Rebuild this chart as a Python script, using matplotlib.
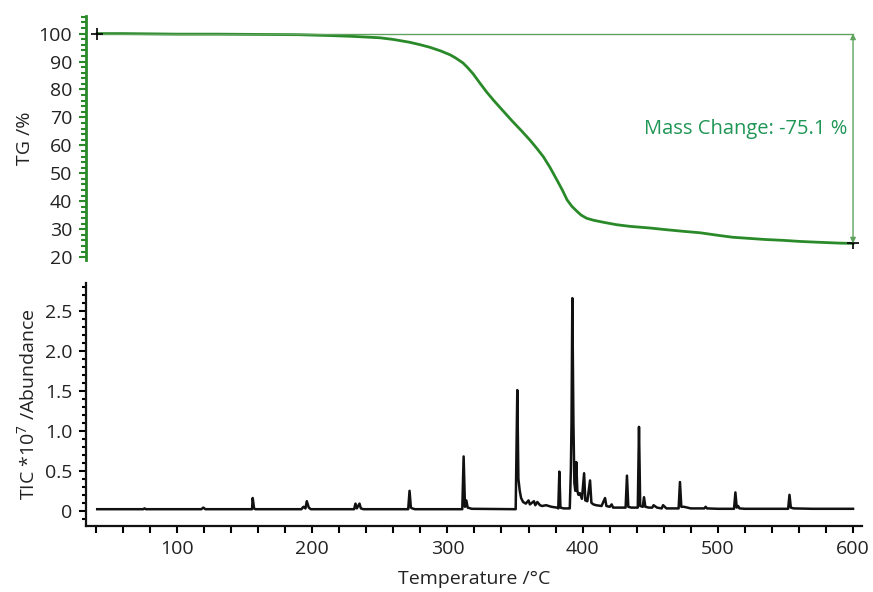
import matplotlib
matplotlib.use("Agg")
import matplotlib.pyplot as plt
from matplotlib.ticker import MultipleLocator, FixedLocator, FuncFormatter

plt.rcParams["font.family"] = ["Open Sans", "DejaVu Sans"]
plt.rcParams["mathtext.default"] = "regular"

# TG curve (temperature in degC, mass in %)
tg_temp = [41, 60, 80, 100, 130, 160, 190, 213, 230, 250, 260, 272, 280, 287,
           295, 302, 306, 311.5, 315, 319, 324, 329, 334, 339, 344, 348.5, 355,
           361, 366, 371, 376, 381, 385, 388.5, 392, 396, 399, 403, 408, 415,
           425, 435, 450, 462, 475, 487, 500, 511, 523, 535, 548, 561, 570,
           580, 590, 600]
tg_mass = [100.0, 100.0, 99.9, 99.8, 99.8, 99.7, 99.6, 99.3, 99.0, 98.5, 97.9,
           96.9, 96.0, 95.1, 93.8, 92.4, 91.3, 89.5, 87.8, 85.6, 82.3, 79.1,
           76.2, 73.5, 70.8, 68.4, 65.1, 61.9, 59.0, 55.9, 52.0, 47.6, 44.0,
           40.5, 38.2, 36.3, 35.0, 33.9, 33.2, 32.5, 31.6, 31.0, 30.4, 29.8,
           29.2, 28.7, 27.8, 27.1, 26.7, 26.3, 26.0, 25.6, 25.4, 25.2, 25.0, 24.9]
mass_change = -75.1

# TIC trace (temperature in degC, abundance in 1e7)
tic_temp = [41, 75, 76, 77, 118, 119.5, 121, 155.5, 156, 157, 158,
            192, 193.5, 195, 196, 197.5, 199,
            231, 232, 233, 235, 236, 238,
            271, 272, 273, 274, 276,
            311, 312, 313, 314, 315, 318, 350.5,
            351.7, 352.5, 353.5, 354.5, 356, 358, 360, 361, 362.5, 364, 365, 366.5,
            368.5, 370, 373, 377, 381, 382, 382.8, 383.6, 386, 389.5,
            390.5, 391.3, 391.8, 392.4, 393.2, 393.9, 394.6, 395.3, 396.1, 396.9,
            398, 399.5, 401.1, 402, 403.5, 405.5, 406.5, 408, 410, 414, 416.6,
            417.6, 420, 421.5, 422.5, 425, 431.8, 432.8, 433.8, 436, 440.8,
            441.7, 442.6, 444.5, 445.4, 446.4, 449, 451.5, 452.5, 455, 458.5,
            459.5, 462, 471, 472, 473, 475, 480, 490, 491, 492, 500, 512, 513,
            514, 515, 516, 520, 552, 553, 554, 556, 570, 600]
tic_abund = [0.02, 0.02, 0.03, 0.02, 0.02, 0.04, 0.02, 0.02, 0.16, 0.03, 0.02,
             0.02, 0.05, 0.03, 0.12, 0.04, 0.02,
             0.02, 0.09, 0.03, 0.09, 0.03, 0.02,
             0.02, 0.25, 0.04, 0.03, 0.02,
             0.02, 0.68, 0.05, 0.13, 0.04, 0.025, 0.02,
             1.51, 0.4, 0.25, 0.16, 0.11, 0.09, 0.13, 0.08, 0.1, 0.12, 0.07, 0.11,
             0.07, 0.06, 0.07, 0.05, 0.04, 0.03, 0.49, 0.04, 0.03, 0.03,
             0.03, 0.5, 1.1, 2.66, 1.1, 0.35, 0.25, 0.61, 0.25, 0.2,
             0.22, 0.15, 0.47, 0.13, 0.12, 0.38, 0.1, 0.08, 0.07, 0.06, 0.16,
             0.06, 0.05, 0.08, 0.04, 0.04, 0.04, 0.44, 0.05, 0.04, 0.04,
             1.05, 0.06, 0.05, 0.17, 0.05, 0.04, 0.04, 0.07, 0.04, 0.03,
             0.07, 0.03, 0.03, 0.36, 0.05, 0.05, 0.03, 0.03, 0.05, 0.03, 0.025,
             0.025, 0.23, 0.04, 0.06, 0.03, 0.025, 0.025, 0.2, 0.04, 0.03, 0.025,
             0.025]

green = "#2a8a2a"
light_green = "#5fa35f"
text_green = "#1f9655"
dark = "#222222"
fs = 14

fig = plt.figure(figsize=(8.73, 5.92), dpi=100)
ax1 = fig.add_axes([0.0985, 0.561, 0.889, 0.412])
ax2 = fig.add_axes([0.0985, 0.1115, 0.889, 0.4105])

xmin, xmax = 32.7, 606.7

# top panel: TG
ax1.plot(tg_temp, tg_mass, color=green, linewidth=2)
ax1.plot([tg_temp[0], tg_temp[-1]], [tg_mass[0], tg_mass[0]],
         color=light_green, linewidth=1)
ax1.annotate("", xy=(tg_temp[-1], tg_mass[0]), xytext=(tg_temp[-1], tg_mass[-1]),
             arrowprops=dict(arrowstyle="<|-|>", color=light_green, lw=1,
                             mutation_scale=8, shrinkA=0, shrinkB=0))
ax1.plot([tg_temp[0], tg_temp[-1]], [tg_mass[0], tg_mass[-1]], "+",
         color="black", markersize=9, markeredgewidth=1.2)
ax1.text(595.5, 66, f"Mass Change: {mass_change} %", color=text_green,
         fontsize=14.5, ha="right", va="center")
ax1.set_xlim(xmin, xmax)
ax1.set_ylim(19, 106.3)
for s in ["top", "right", "bottom"]:
    ax1.spines[s].set_visible(False)
ax1.spines["left"].set_color(green)
ax1.spines["left"].set_linewidth(2)
ax1.set_xticks([])
ax1.yaxis.set_major_locator(FixedLocator(range(20, 101, 10)))
ax1.yaxis.set_minor_locator(MultipleLocator(2))
ax1.tick_params(axis="y", which="major", color=green, length=5, width=1.5,
                labelsize=fs, labelcolor=dark, pad=5)
ax1.tick_params(axis="y", which="minor", color=green, length=3.5, width=1.5)
ax1.set_ylabel("TG /%", fontsize=fs, color=dark, labelpad=3)

# bottom panel: TIC
ax2.plot(tic_temp, tic_abund, color="#111111", linewidth=1.8)
ax2.set_xlim(xmin, xmax)
ax2.set_ylim(-0.19, 2.85)
for s in ["top", "right"]:
    ax2.spines[s].set_visible(False)
for s in ["left", "bottom"]:
    ax2.spines[s].set_linewidth(1.6)
    ax2.spines[s].set_color("#111111")
ax2.xaxis.set_major_locator(FixedLocator(range(100, 601, 100)))
ax2.xaxis.set_minor_locator(FixedLocator(range(40, 601, 20)))
ax2.yaxis.set_major_locator(FixedLocator([0, 0.5, 1.0, 1.5, 2.0, 2.5]))
ax2.yaxis.set_minor_locator(MultipleLocator(0.1))
ax2.yaxis.set_major_formatter(FuncFormatter(lambda v, p: "0" if abs(v) < 1e-9 else f"{v:.1f}"))
ax2.tick_params(axis="both", which="major", length=5, width=1.5,
                labelsize=fs, labelcolor=dark, pad=5)
ax2.tick_params(axis="x", which="minor", length=5, width=1.5)
ax2.tick_params(axis="y", which="minor", length=3, width=1.5)
ax2.set_ylabel("TIC *10$^{7}$ /Abundance", fontsize=fs, color=dark, labelpad=5)
ax2.set_xlabel("Temperature /°C", fontsize=fs, color=dark, labelpad=9)

fig.savefig("out.png", dpi=100)
